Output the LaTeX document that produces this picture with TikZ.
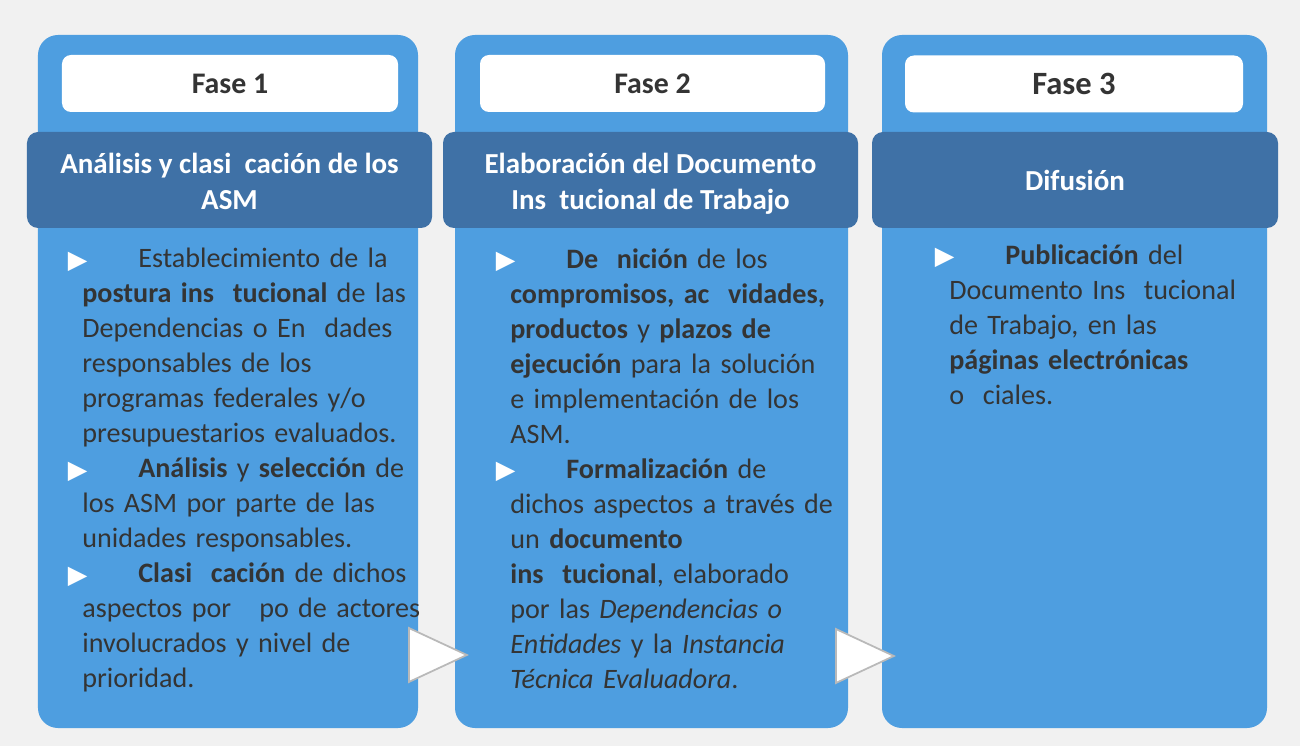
\documentclass[tikz,border=0pt]{standalone}
\usepackage{fontspec}
\setmainfont{Carlito}
\newfontfamily\symfont{DejaVu Sans}
\usetikzlibrary{shapes.geometric}

\definecolor{bggray}{RGB}{241,241,241}
\definecolor{colblue}{RGB}{78,158,224}
\definecolor{banblue}{RGB}{63,113,166}
\definecolor{txtgray}{RGB}{52,52,52}

% white bullet, hanging left of the text margin
\newcommand\bul{\makebox[0pt][l]{\hspace{-2.9mm}\textcolor{white}{\symfont\fontsize{14.5}{14.5}\selectfont\raisebox{-0.5pt}{▶}}}\hspace{11.2mm}}
% same height for every banner line
\newcommand\bstrut{\vphantom{Áj}}
\newcommand\btop{\vphantom{\raisebox{2.3pt}{Á}}}

\begin{document}
\begin{tikzpicture}[
        x=0.2mm, y=-0.2mm,
        col/.style={rounded corners=4mm, fill=colblue, minimum height=138.6mm,
                    inner sep=0pt},
        fase/.style={rounded corners=1.8mm, fill=white, minimum height=11.4mm,
                     inner sep=0pt, text=txtgray,
                     font=\fontsize{17}{20}\selectfont\bfseries},
        ban/.style={rounded corners=2.2mm, fill=banblue, minimum height=19.2mm,
                    inner sep=0pt, align=center, text=white,
                    font=\fontsize{16.5}{20.5}\selectfont\bfseries},
        body/.style={anchor=north west, inner sep=0pt, text width=72mm,
                     align=left, text=txtgray,
                     font=\fontsize{16}{19.92}\selectfont},
        tri/.style={isosceles triangle, isosceles triangle stretches,
                    fill=white, draw=gray!55, line width=0.35mm,
                    minimum width=10.8mm, minimum height=11.6mm,
                    inner sep=0pt, anchor=west},
    ]

    \fill[bggray] (0,0) rectangle (1300,746);
    \useasboundingbox (0,0) rectangle (1300,746);

    % columns
    \node[col, minimum width=76mm]   (c1) at (228,381.5)  {};
    \node[col, minimum width=78.6mm] (c2) at (651.5,381.5) {};
    \node[col, minimum width=77mm]   (c3) at (1074.5,381.5) {};

    \node[fase, minimum width=67.2mm] (f1) at (230,83.5)    {Fase 1};
    \node[fase, minimum width=69mm]   (f2) at (652.5,83.5)  {Fase 2};
    \node[fase, minimum width=67.6mm,
          font=\fontsize{18.5}{22}\selectfont\bfseries] (f3) at (1074,84) {Fase 3};

    \node[ban, minimum width=81mm]   (b1) at (229.5,180) {\btop\bstrut Análisis y clasi~ cación de los\\\bstrut ASM};
    \node[ban, minimum width=83mm]   (b2) at (650.5,180) {\btop\bstrut Elaboración del Documento\\\bstrut Ins~ tucional de Trabajo};
    \node[ban, minimum width=81.2mm] (b3) at (1075,180)  {Difusión};

    \node[body] (t1) at (82,248) {%
        \bul Establecimiento de la\\
        \textbf{postura ins~ tucional} de las\\
        Dependencias o En~ dades\\
        responsables de los\\
        programas federales y/o\\
        presupuestarios evaluados.\\
        \bul\textbf{Análisis} y \textbf{selección} de\\
        los ASM por parte de las\\
        unidades responsables.\\
        \bul\textbf{Clasi~ cación} de dichos\\
        aspectos por~~ po de actores\\
        involucrados y nivel de\\
        prioridad.};

    \node[body] (t2) at (510,248) {%
        \bul\textbf{De~ nición} de los\\
        \textbf{compromisos, ac~ vidades,}\\
        \textbf{productos} y \textbf{plazos de}\\
        \textbf{ejecución} para la solución\\
        e implementación de los\\
        ASM.\\
        \bul\textbf{Formalización} de\\
        dichos aspectos a través de\\
        un \textbf{documento}\\
        \textbf{ins~ tucional}, elaborado\\
        por las \textit{Dependencias o}\\
        \textit{Entidades} y la \textit{Instancia}\\
        \textit{Técnica Evaluadora}.};

    \node[body] (t3) at (949,244) {%
        \bul\textbf{Publicación} del\\
        Documento Ins~ tucional\\
        de Trabajo, en las\\
        \textbf{páginas electrónicas}\\
        o~ ciales.};

    % arrows between phases
    \node[tri] (a12) at (408,655) {};
    \node[tri] (a23) at (835,656) {};

    \end{tikzpicture}
\end{document}
